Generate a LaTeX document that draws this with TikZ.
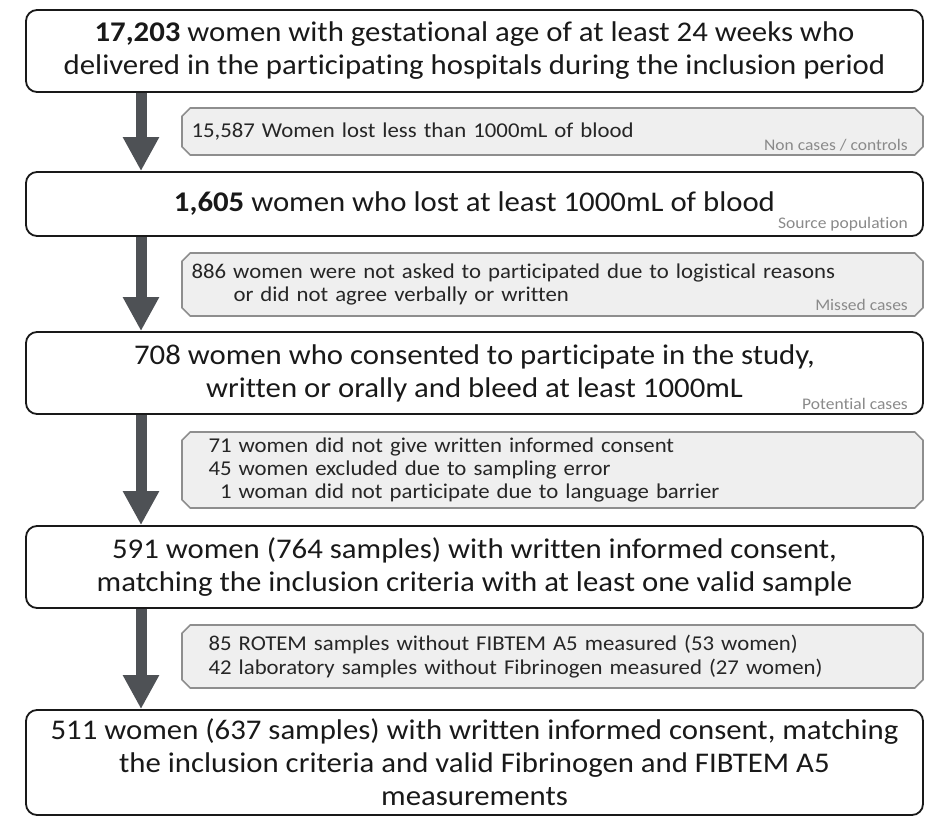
\documentclass[tikz,border=0pt]{standalone}
\usepackage{fontspec}
\setmainfont{Carlito}[FakeStretch=1.08, Ligatures={NoCommon,NoRequired,NoContextual}]
\usetikzlibrary{arrows.meta,shapes.misc}
\definecolor{arrowgrey}{HTML}{4E5155}
\definecolor{boxgrey}{HTML}{EFEFEF}
\definecolor{framegrey}{HTML}{8E8E8E}
\definecolor{notegrey}{HTML}{8A8A8A}
\begin{document}
\begin{tikzpicture}[x=1pt, y=-1pt,
        stagebox/.style={draw=black!90, line width=1.8pt, rounded corners=11pt, fill=white, inner sep=0pt, minimum width=897pt, align=center, text=black!90, font=\fontsize{28.5}{33}\selectfont},
        exclbox/.style={chamfered rectangle, chamfered rectangle xsep=5pt, draw=framegrey, line width=1.6pt, fill=boxgrey, inner sep=0pt, minimum width=741pt, text width=722pt, align=left, text=black!85, font=\fontsize{21.1}{23.3}\selectfont},
        tagnote/.style={anchor=base east, text=notegrey, inner sep=0pt, font=\fontsize{16.2}{18}\selectfont},
        flowarrow/.style={draw=arrowgrey, line width=11pt, -{Triangle[width=34pt, length=34pt]}}]
    \useasboundingbox (0,0) rectangle (926,816);
    \coordinate (ax) at (141,0);
    \node[stagebox, minimum height=82pt] (b1) at (474.5,51) {\textbf{17,203} women with gestational age of at least 24 weeks who\\delivered in the participating hospitals during the inclusion period};
    \node[stagebox, minimum height=64pt] (b2) at (474.5,204) {\textbf{1,605} women who lost at least 1000mL of blood};
    \node[stagebox, minimum height=82pt] (b3) at (474.5,373) {708 women who consented to participate in the study,\\written or orally and bleed at least 1000mL};
    \node[stagebox, minimum height=82pt] (b4) at (474.5,567) {591 women (764 samples) with written informed consent,\\matching the inclusion criteria with at least one valid sample};
    \node[stagebox, minimum height=105pt] (b5) at (474.5,762.5) {511 women (637 samples) with written informed consent, matching\\the inclusion criteria and valid Fibrinogen and FIBTEM A5\\measurements};
    \node[exclbox, minimum height=47pt] (g1) at (552.5,131.5) {15,587 Women lost less than 1000mL of blood};
    \node[exclbox, minimum height=63pt] (g2) at (552.5,284.5) {886 women were not asked to participated due to logistical reasons\\\hspace*{42pt}or did not agree verbally or written};
    \node[exclbox, minimum height=76pt] (g3) at (552.5,470) {\hspace*{17pt}71 women did not give written informed consent\\\hspace*{17pt}45 women excluded due to sampling error\\\hspace*{17pt}\phantom{0}1 woman did not participate due to language barrier};
    \node[exclbox, minimum height=63pt] (g4) at (552.5,656.5) {\hspace*{17pt}85 ROTEM samples without FIBTEM A5 measured (53 women)\\\hspace*{17pt}42 laboratory samples without Fibrinogen measured (27 women)};
    \node[tagnote] (t1) at (908,150) {Non cases / controls};
    \node[tagnote] (t2) at (908,228) {Source population};
    \node[tagnote] (t3) at (908,310) {Missed cases};
    \node[tagnote] (t4) at (908,409) {Potential cases};
    \foreach \from/\to in {b1/b2, b2/b3, b3/b4, b4/b5}
        \draw[flowarrow] (\from.south -| ax) -- (\to.north -| ax);
\end{tikzpicture}
\end{document}
